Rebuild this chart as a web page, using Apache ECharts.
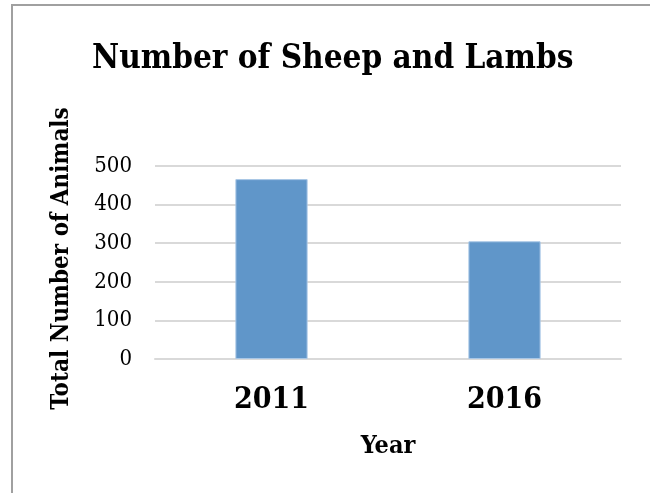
<!DOCTYPE html>
<html>
<head>
<meta charset="utf-8">
<script src="https://cdn.jsdelivr.net/npm/echarts@6/dist/echarts.min.js"></script>
<style>
  html, body { margin: 0; padding: 0; background: #ffffff; }
  #chart { width: 650px; height: 493px; }
</style>
</head>
<body>
<div id="chart"></div>
<script>
// Sheep and lamb counts by census year
const years = ['2011', '2016'];
const animals = [466, 305];
const yTicks = [0, 100, 200, 300, 400, 500];

const serif = '"DejaVu Serif Condensed", "DejaVu Serif", serif';

const chart = echarts.init(document.getElementById('chart'), null, { renderer: 'canvas' });

chart.setOption({
  backgroundColor: '#ffffff',
  animation: false,
  title: {
    text: 'Number of Sheep and Lambs',
    left: 92,
    top: 43,
    padding: 0,
    textStyle: { fontFamily: serif, fontWeight: 'bold', fontSize: 33, color: '#000000' }
  },
  graphic: [{
    type: 'rect',
    shape: { x: 12, y: 5, width: 660, height: 520 },
    style: { fill: 'none', stroke: '#a0a0a0', lineWidth: 2 },
    silent: true
  }],
  grid: { left: 155, right: 29, top: 166, bottom: 134 },
  xAxis: {
    type: 'category',
    data: years,
    name: 'Year',
    nameLocation: 'middle',
    nameGap: 75,
    nameTextStyle: { fontFamily: serif, fontWeight: 'bold', fontSize: 25, color: '#000000' },
    axisLine: { show: true, lineStyle: { color: '#d9d9d9', width: 2 } },
    axisTick: { show: false },
    axisLabel: { fontFamily: serif, fontWeight: 'bold', fontSize: 30, color: '#000000', margin: 26 }
  },
  yAxis: {
    type: 'value',
    min: yTicks[0],
    max: yTicks[yTicks.length - 1],
    interval: yTicks[1] - yTicks[0],
    name: 'Total Number of Animals',
    nameLocation: 'middle',
    nameGap: 81,
    nameRotate: 90,
    nameTextStyle: { fontFamily: serif, fontWeight: 'bold', fontSize: 24, color: '#000000', padding: [0, 0, 0, 8] },
    axisLine: { show: false },
    axisTick: { show: false },
    splitLine: { lineStyle: { color: '#d9d9d9', width: 2 } },
    axisLabel: { fontFamily: serif, fontSize: 22, color: '#000000', margin: 23 }
  },
  series: [{
    type: 'bar',
    data: animals,
    barWidth: '31%',
    itemStyle: { color: '#6096c9', borderColor: '#a9c7e6', borderWidth: 1 }
  }]
});
</script>
</body>
</html>
